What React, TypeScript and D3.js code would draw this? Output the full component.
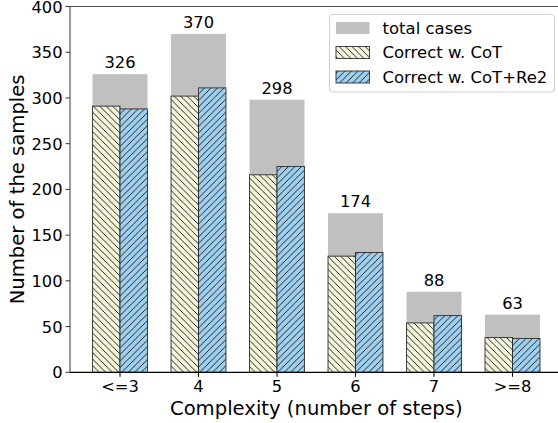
import React from "react";
import * as d3 from "d3";

const categories = ["<=3", "4", "5", "6", "7", ">=8"];
const totalCases = [326, 370, 298, 174, 88, 63];
const correctCoT = [291, 302, 216, 127, 54, 38];
const correctCoTRe2 = [288, 311, 225, 131, 62, 37];
const yTicks = [0, 50, 100, 150, 200, 250, 300, 350, 400];

const W = 558;
const H = 423;
const m = { left: 70, top: 6.5, right: 562.5, bottom: 372.3 };
const FONT = "DejaVu Sans, sans-serif";

export default function App() {
  const x = d3
    .scaleLinear()
    .domain([-0.637, categories.length - 1 + 0.637])
    .range([m.left, m.right]);
  const y = d3.scaleLinear().domain([0, 400]).range([m.bottom, m.top]);
  const pxPerUnit = x(1) - x(0);
  const totalW = 0.7 * pxPerUnit;
  const subW = totalW / 2;
  const beige = "#f5f5dc";
  const blue = "#9fd0f0";
  const gray = "#c0c0c0";
  const edge = "#222";
  const fs = 16.3;
  const lfs = 19.6;

  return (
    <svg width={W} height={H} style={{ display: "block", position: "absolute", left: 0, top: 0 }}>
      <defs>
        <pattern id="hBack" patternUnits="userSpaceOnUse" width="6.5" height="6.5">
          <rect width="6.5" height="6.5" fill={beige} />
          <path d="M-1,-1 L7.5,7.5 M-1,5.5 L1,7.5 M5.5,-1 L7.5,1" stroke="#111" strokeWidth="0.9" />
        </pattern>
        <pattern id="hFwd" patternUnits="userSpaceOnUse" width="6.5" height="6.5">
          <rect width="6.5" height="6.5" fill={blue} />
          <path d="M-1,7.5 L7.5,-1 M-1,1 L1,-1 M5.5,7.5 L7.5,5.5" stroke="#111" strokeWidth="0.9" />
        </pattern>
        <clipPath id="plotClip">
          <rect x={m.left} y={m.top} width={m.right - m.left} height={m.bottom - m.top} />
        </clipPath>
      </defs>
      <rect width={W} height={H} fill="#fff" />
      <g clipPath="url(#plotClip)">
        {categories.map((c, i) => (
          <rect
            key={"t" + c}
            x={x(i) - totalW / 2}
            y={y(totalCases[i])}
            width={totalW}
            height={y(0) - y(totalCases[i])}
            fill={gray}
          />
        ))}
        {categories.map((c, i) => (
          <rect
            key={"a" + c}
            x={x(i) - subW}
            y={y(correctCoT[i])}
            width={subW}
            height={y(0) - y(correctCoT[i])}
            fill="url(#hBack)"
            stroke={edge}
            strokeWidth={1}
            strokeOpacity={0.85}
          />
        ))}
        {categories.map((c, i) => (
          <rect
            key={"b" + c}
            x={x(i)}
            y={y(correctCoTRe2[i])}
            width={subW}
            height={y(0) - y(correctCoTRe2[i])}
            fill="url(#hFwd)"
            stroke={edge}
            strokeWidth={1}
            strokeOpacity={0.85}
          />
        ))}
      </g>
      {categories.map((c, i) => (
        <text
          key={"l" + c}
          x={x(i)}
          y={y(totalCases[i]) - 6}
          textAnchor="middle"
          fontFamily={FONT}
          fontSize={fs}
          fill="#000"
        >
          {totalCases[i]}
        </text>
      ))}
      {/* spines */}
      <line x1={m.left} x2={m.left} y1={m.top} y2={m.bottom} stroke="#555" strokeWidth={1.2} />
      <line x1={m.left} x2={m.right} y1={m.top} y2={m.top} stroke="#555" strokeWidth={1.2} />
      <line x1={m.right} x2={m.right} y1={m.top} y2={m.bottom} stroke="#555" strokeWidth={1.2} />
      <line x1={m.left} x2={m.right} y1={m.bottom} y2={m.bottom} stroke="#000" strokeWidth={1.2} />
      {/* y ticks */}
      {yTicks.map((t) => (
        <g key={"y" + t}>
          <line x1={m.left - 4.5} x2={m.left} y1={y(t)} y2={y(t)} stroke="#333" strokeWidth={1} />
          <text
            x={m.left - 7.5}
            y={y(t)}
            dy="0.37em"
            textAnchor="end"
            fontFamily={FONT}
            fontSize={fs}
            fill="#000"
          >
            {t}
          </text>
        </g>
      ))}
      {/* x ticks */}
      {categories.map((c, i) => (
        <g key={"x" + c}>
          <line x1={x(i)} x2={x(i)} y1={m.bottom} y2={m.bottom + 4.5} stroke="#000" strokeWidth={1} />
          <text
            x={x(i)}
            y={m.bottom + 19.7}
            textAnchor="middle"
            fontFamily={FONT}
            fontSize={fs}
            fill="#000"
          >
            {c}
          </text>
        </g>
      ))}
      <text
        x={(m.left + m.right) / 2}
        y={415}
        textAnchor="middle"
        fontFamily={FONT}
        fontSize={lfs}
        fill="#000"
      >
        Complexity (number of steps)
      </text>
      <text
        transform={`translate(24, ${(m.top + m.bottom) / 2}) rotate(-90)`}
        textAnchor="middle"
        fontFamily={FONT}
        fontSize={lfs}
        fill="#000"
      >
        Number of the samples
      </text>
      {/* legend */}
      <g>
        <rect x={329.5} y={14.5} width={225} height={77.5} rx={3} fill="#fff" fillOpacity={0.8} stroke="#d0d0d0" strokeWidth={1} />
        <rect x={336} y={22} width={33.5} height={12} fill={gray} />
        <rect x={336} y={46.5} width={33.5} height={12} fill="url(#hBack)" stroke={edge} strokeWidth={1} strokeOpacity={0.85} />
        <rect x={336} y={71} width={33.5} height={12} fill="url(#hFwd)" stroke={edge} strokeWidth={1} strokeOpacity={0.85} />
        {["total cases", "Correct w. CoT", "Correct w. CoT+Re2"].map((s, i) => (
          <text
            key={s}
            x={382.5}
            y={28 + i * 24.5}
            dy="0.36em"
            fontFamily={FONT}
            fontSize={16.5}
            fill="#000"
          >
            {s}
          </text>
        ))}
      </g>
    </svg>
  );
}
